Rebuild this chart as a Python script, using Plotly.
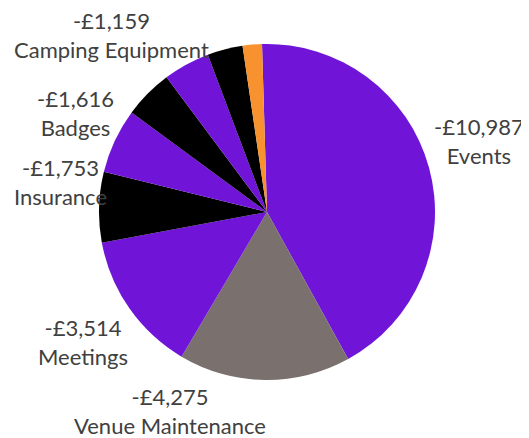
import plotly.graph_objects as go

categories = ["Events", "Venue Maintenance", "Meetings", "Insurance", "Badges",
              "Other A", "Camping Equipment", "Other B", "Other C"]
values = [-10987, -4275, -3514, -1753, -1616, -1220, -1159, -880, -480]
colors = ["#7015D8", "#7A716F", "#7015D8", "#000000", "#7015D8",
          "#000000", "#7015D8", "#000000", "#F8922E"]

# labels shown (Tableau hides the overlapping ones)
shown = ["Events", "Venue Maintenance", "Meetings", "Insurance", "Badges", "Camping Equipment"]
label_pos = {  # pixel centres of label blocks in the screenshot
    "Events": (479, 141),
    "Venue Maintenance": (170, 411),
    "Meetings": (83, 342),
    "Insurance": (60, 182),
    "Badges": (75, 113),
    "Camping Equipment": (111, 35),
}

OFF = 8  # page body margin
W, H = 529 - OFF, 438 - OFF
cx, cy, r = 267 - OFF, 212 - OFF, 168

fig = go.Figure(go.Pie(
    labels=categories,
    values=[abs(v) for v in values],
    marker=dict(colors=colors, line=dict(width=0)),
    sort=False,
    direction="clockwise",
    rotation=-1.7,
    textinfo="none",
    hoverinfo="label+value",
    showlegend=False,
    domain=dict(x=[(cx - r) / W, (cx + r) / W],
                y=[(H - cy - r) / H, (H - cy + r) / H]),
))

def fmt(v):
    return ("-£" if v < 0 else "£") + f"{abs(v):,}"

for name in shown:
    v = values[categories.index(name)]
    px, py = label_pos[name]
    fig.add_annotation(
        x=(px - OFF) / W, y=1 - (py - OFF) / H, xref="paper", yref="paper",
        text=f"{fmt(v)}<br>{name}", showarrow=False,
        xanchor="center", yanchor="middle", align="center",
        font=dict(family="Lato", size=22, color="#404040"),
    )

fig.update_layout(
    width=W, height=H,
    margin=dict(l=0, r=0, t=0, b=0),
    paper_bgcolor="white", plot_bgcolor="white",
)

fig.write_html("out.html")
